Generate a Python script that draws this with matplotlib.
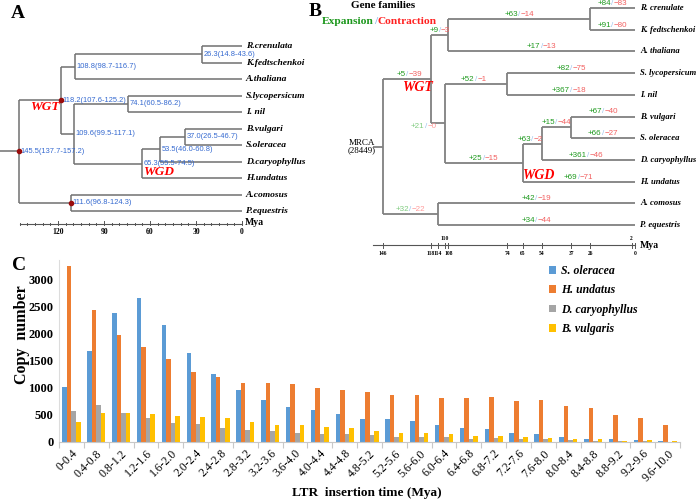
import matplotlib
matplotlib.use('Agg')
import matplotlib.pyplot as plt
from matplotlib.patches import Patch
import numpy as np

plt.rcParams.update({
    'font.family': ['Liberation Serif', 'DejaVu Serif'],
    'axes.unicode_minus': False,
})
SANS = ['Liberation Sans', 'DejaVu Sans']

# ── A: divergence-time tree ──
tips_a = ['R.crenulata', 'K.fedtschenkoi', 'A.thaliana', 'S.lycopersicum', 'I. nil',
          'B.vulgari', 'S.oleracea', 'D.caryophyllus', 'H.undatus', 'A.comosus', 'P.equestris']
# node = (age, label, children); children are tip indices or nodes
tree_a = (145.5, '145.5(137.7-157.2)', [
    (118.2, '118.2(107.6-125.2)', [
        (108.8, '108.8(98.7-116.7)', [(26.3, '26.3(14.8-43.6)', [0, 1]), 2]),
        (109.6, '109.6(99.5-117.1)', [
            (74.1, '74.1(60.5-86.2)', [3, 4]),
            (65.3, '65.3(55.5-74.5)', [
                (53.5, '53.5(46.0-60.8)', [(37.0, '37.0(26.5-46.7)', [5, 6]), 7]),
                8])])]),
    (111.6, '111.6(96.8-124.3)', [9, 10])])
calibrated_a = [145.5, 118.2, 111.6]
ticks_a = [120, 90, 60, 30, 0]

# ── B: gene family expansion / contraction ──
tips_b = ['R. crenulate', 'K. fedtschenkoi', 'A. thaliana', 'S. lycopersicum', 'I. nil',
          'B. vulgari', 'S. oleracea', 'D. caryophyllus', 'H. undatus', 'A. comosus', 'P. equestris']
tip_change_b = [(84, 83), (91, 80), (17, 13), (82, 75), (367, 18), (67, 40),
                (66, 27), (361, 46), (69, 71), (42, 19), (34, 44)]
# node = (age, (expansion, contraction) on branch above it, children)
tree_b = (146, None, [
    (118, (5, 39), [
        (108, (9, 3), [(26, (63, 14), [0, 1]), 2]),
        (110, (21, 0), [
            (74, (52, 1), [3, 4]),
            (65, (25, 15), [
                (54, (63, 2), [(37, (15, 44), [5, 6]), 7]),
                8])])]),
    (114, (32, 22), [9, 10])])
faded_b = [110, 114]
ticks_b_low = [146, 118, 114, 108, 74, 65, 54, 37, 26, 0]
ticks_b_high = [110, 2]
mrca_size = 28449

# ── C: LTR insertion time ──
bins = ['0-0.4', '0.4-0.8', '0.8-1.2', '1.2-1.6', '1.6-2.0', '2.0-2.4', '2.4-2.8',
        '2.8-3.2', '3.2-3.6', '3.6-4.0', '4.0-4.4', '4.4-4.8', '4.8-5.2', '5.2-5.6',
        '5.6-6.0', '6.0-6.4', '6.4-6.8', '6.8-7.2', '7.2-7.6', '7.6-8.0', '8.0-8.4',
        '8.4-8.8', '8.8-9.2', '9.2-9.6', '9.6-10.0']
s_oleracea = [1010, 1680, 2380, 2670, 2170, 1640, 1250, 970, 780, 655, 585, 510, 430, 420,
              385, 315, 255, 235, 165, 140, 100, 50, 50, 30, 12]
h_undatus = [3260, 2450, 1980, 1765, 1545, 1300, 1210, 1100, 1090, 1070, 1005, 965, 930, 875,
             870, 810, 810, 825, 765, 770, 675, 625, 495, 445, 320]
d_caryophyllus = [575, 680, 545, 440, 345, 325, 255, 215, 200, 160, 155, 140, 130, 95,
                  95, 85, 60, 70, 50, 50, 35, 12, 25, 12, 6]
b_vulgaris = [375, 530, 530, 510, 490, 470, 445, 370, 320, 315, 280, 265, 205, 165,
              165, 150, 115, 115, 95, 80, 60, 50, 20, 30, 12]
series_c = [('S. oleracea', s_oleracea, '#5b9bd5'), ('H. undatus', h_undatus, '#ed7d31'),
            ('D. caryophyllus', d_caryophyllus, '#a5a5a5'), ('B. vulgaris', b_vulgaris, '#ffc000')]


def layout(node, parent, rows):
    if isinstance(node, int):
        rows.append(dict(tip=node, age=0.0, y=float(node), parent=parent, info=None))
        return float(node)
    age, info, kids = node
    ys = [layout(k, age, rows) for k in kids]
    y = (ys[0] + ys[-1]) / 2
    rows.append(dict(tip=None, age=age, y=y, parent=parent, info=info, y0=ys[0], y1=ys[-1]))
    return y


def draw_lines(ax, rows, color, lw, stem):
    for r in rows:
        p = r['parent'] if r['parent'] is not None else stem
        ax.plot([p, r['age']], [r['y'], r['y']], color=color, lw=lw, solid_capstyle='butt')
        if r['tip'] is None:
            ax.plot([r['age'], r['age']], [r['y0'], r['y1']], color=color, lw=lw,
                    solid_capstyle='butt')


def change_label(ax, x, y, gain, loss, faded=False):
    g = '#80cc80' if faded else '#1f9a1f'
    rc = '#ff9a9a' if faded else '#f26060'
    kw = dict(textcoords='offset points', va='center', fontsize=5.8, family=SANS)
    ax.annotate('/', (x, y), xytext=(0, 0), ha='center', color='#9cc3ee', **kw)
    ax.annotate(f'+{gain}', (x, y), xytext=(-0.9, 0), ha='right', color=g, **kw)
    ax.annotate(f'\u2212{loss}', (x, y), xytext=(0.9, 0), ha='left', color=rc, **kw)


W, H = 696, 503
fig = plt.figure(figsize=(W / 100, H / 100), dpi=100, facecolor='white')

# ---------- panel A ----------
axA = fig.add_axes([0, 1 - 250 / H, 345 / W, 250 / H])
axA.set_xlim(157.9, -67.2)
axA.set_ylim(12.36, -2.79)
axA.axis('off')
rows_a = []
layout(tree_a, None, rows_a)
draw_lines(axA, rows_a, '#707070', 1.1, 157.9)
for r in rows_a:
    if r['tip'] is not None:
        axA.text(-2.6, r['y'], tips_a[r['tip']], ha='left', va='center', fontsize=6.8,
                 fontweight='bold', style='italic')
    else:
        axA.text(r['age'] - 1.0, r['y'], r['info'], ha='left', va='center', fontsize=5.4,
                 color='#3469d0', family=SANS)
        if r['age'] in calibrated_a:
            axA.plot(r['age'], r['y'], 'o', ms=3, color='#9a0c0c', zorder=5)
axA.text(128.8, 3.7, 'WGT', color='red', fontsize=9.5, fontweight='bold', style='italic',
         ha='center', va='center')
axA.text(54.5, 7.64, 'WGD', color='red', fontsize=9.5, fontweight='bold', style='italic',
         ha='center', va='center')
ya = 10.79
axA.plot([145, 0], [ya, ya], color='#555555', lw=0.8)
for t in range(0, 146, 5):
    h = 0.16 if t in ticks_a else 0.09
    axA.plot([t, t], [ya - h, ya + h * 0.4], color='#555555', lw=0.7)
for t in ticks_a:
    axA.text(t, ya + 0.5, str(t), ha='center', va='center', fontsize=5.5, fontweight='bold')
axA.text(-2.0, ya - 0.1, 'Mya', ha='left', va='center', fontsize=7, fontweight='bold')

# ---------- panel B ----------
axB = fig.add_axes([340 / W, 1 - 255 / H, 356 / W, 255 / H])
axB.set_xlim(170.7, -35.3)
axB.set_ylim(11.38, -0.369)
axB.axis('off')
rows_b = []
layout(tree_b, None, rows_b)
draw_lines(axB, rows_b, '#808080', 1.3, 151.6)
for r in rows_b:
    info = tip_change_b[r['tip']] if r['tip'] is not None else r['info']
    if r['tip'] is not None:
        axB.text(-2.9, r['y'], tips_b[r['tip']], ha='left', va='center', fontsize=6.2,
                 fontweight='bold', style='italic')
    if info is None:
        continue
    x = (r['parent'] + r['age']) / 2
    y = r['y'] - 0.21
    if r['age'] == 110:
        x, y = r['parent'] + 3, r['y'] + 0.13
    change_label(axB, x, y, info[0], info[1], faded=r['age'] in faded_b)
axB.text(158, 6.2, 'MRCA', ha='center', va='center', fontsize=6.5)
axB.text(158, 6.56, f'({mrca_size})', ha='center', va='center', fontsize=6.5)
axB.text(125.6, 3.64, 'WGT', color='red', fontsize=10, fontweight='bold', style='italic',
         ha='center', va='center')
axB.text(55.8, 7.7, 'WGD', color='red', fontsize=10, fontweight='bold', style='italic',
         ha='center', va='center')
yb = 10.94
axB.plot([151.6, 0], [yb, yb], color='#555555', lw=0.8)
for t in ticks_b_low + ticks_b_high:
    axB.plot([t, t], [yb - 0.11, yb + 0.11], color='#555555', lw=0.7)
for t in ticks_b_low:
    axB.text(t, yb + 0.36, str(t), ha='center', va='center', fontsize=4.0, fontweight='bold')
for t in ticks_b_high:
    axB.text(t, yb - 0.3, str(t), ha='center', va='center', fontsize=4.0, fontweight='bold')
axB.text(-3.0, yb, 'Mya', ha='left', va='center', fontsize=7, fontweight='bold')

# ---------- panel C ----------
axC = fig.add_axes([59 / W, 1 - 442 / H, 621 / W, 182 / H])
x = np.arange(len(bins))
w = 0.183
for k, (name, vals, col) in enumerate(series_c):
    axC.bar(x + (k - 1.5) * w, vals, width=w, color=col, label=name)
axC.set_xlim(-0.5, len(bins) - 0.5)
axC.set_ylim(0, 3370)
axC.set_yticks(np.arange(0, 3001, 500))
axC.set_yticklabels([str(v) for v in range(0, 3001, 500)], fontsize=9, fontweight='bold')
axC.set_xticks(x)
axC.set_xticklabels(bins, rotation=45, ha='right', va='top', rotation_mode='anchor',
                    fontsize=8.5)
axC.set_xticks(np.arange(-0.5, len(bins)), minor=True)
axC.tick_params(axis='x', which='major', length=0, pad=4)
axC.tick_params(axis='x', which='minor', length=4, color='#c8c8c8', width=0.8)
axC.tick_params(axis='y', length=0, pad=4)
for s in ['top', 'right']:
    axC.spines[s].set_visible(False)
axC.spines['left'].set_color('#dcdcdc')
axC.spines['bottom'].set_color('#c8c8c8')
axC.set_ylabel('Copy  number', fontsize=11.5, fontweight='bold')
axC.yaxis.set_label_coords(-(59 - 30) / 621, (442 - 335) / 182)
fig.text(367 / W, 1 - 493 / H, 'LTR  insertion time (Mya)', ha='center', va='center',
         fontsize=9.5, fontweight='bold')
handles = [Patch(facecolor=c, label=n) for n, _, c in series_c]
fig.legend(handles=handles, loc='upper left', bbox_to_anchor=(549 / W, 1 - 265 / H),
           frameon=False, prop=dict(size=8.5, weight='bold', style='italic'),
           handlelength=0.6, handleheight=0.6, handletextpad=0.4, labelspacing=0.62,
           borderaxespad=0, borderpad=0)

# ---------- panel letters / headers ----------
fig.text(18 / W, 1 - 13 / H, 'A', fontsize=14, fontweight='bold', ha='center', va='center')
fig.text(315 / W, 1 - 12 / H, 'B', fontsize=14, fontweight='bold', ha='center', va='center')
fig.text(19 / W, 1 - 265 / H, 'C', fontsize=14, fontweight='bold', ha='center', va='center')
fig.text(383 / W, 1 - 6 / H, 'Gene families', fontsize=8, fontweight='bold', ha='center',
         va='center')
t1 = fig.text(322 / W, 1 - 21 / H, 'Expansion', fontsize=8.2, fontweight='bold',
              color='#1a961a', ha='left', va='center')
fig.canvas.draw()
bb = t1.get_window_extent()
t2 = fig.text(bb.x1 / W, 1 - 21 / H, '/', fontsize=8.2, fontweight='bold',
              color='#8fb8e8', ha='left', va='center')
bb2 = t2.get_window_extent()
fig.text(bb2.x1 / W, 1 - 21 / H, 'Contraction', fontsize=8.2, fontweight='bold',
         color='#ff2020', ha='left', va='center')

fig.savefig('out.png', dpi=100, facecolor='white')
